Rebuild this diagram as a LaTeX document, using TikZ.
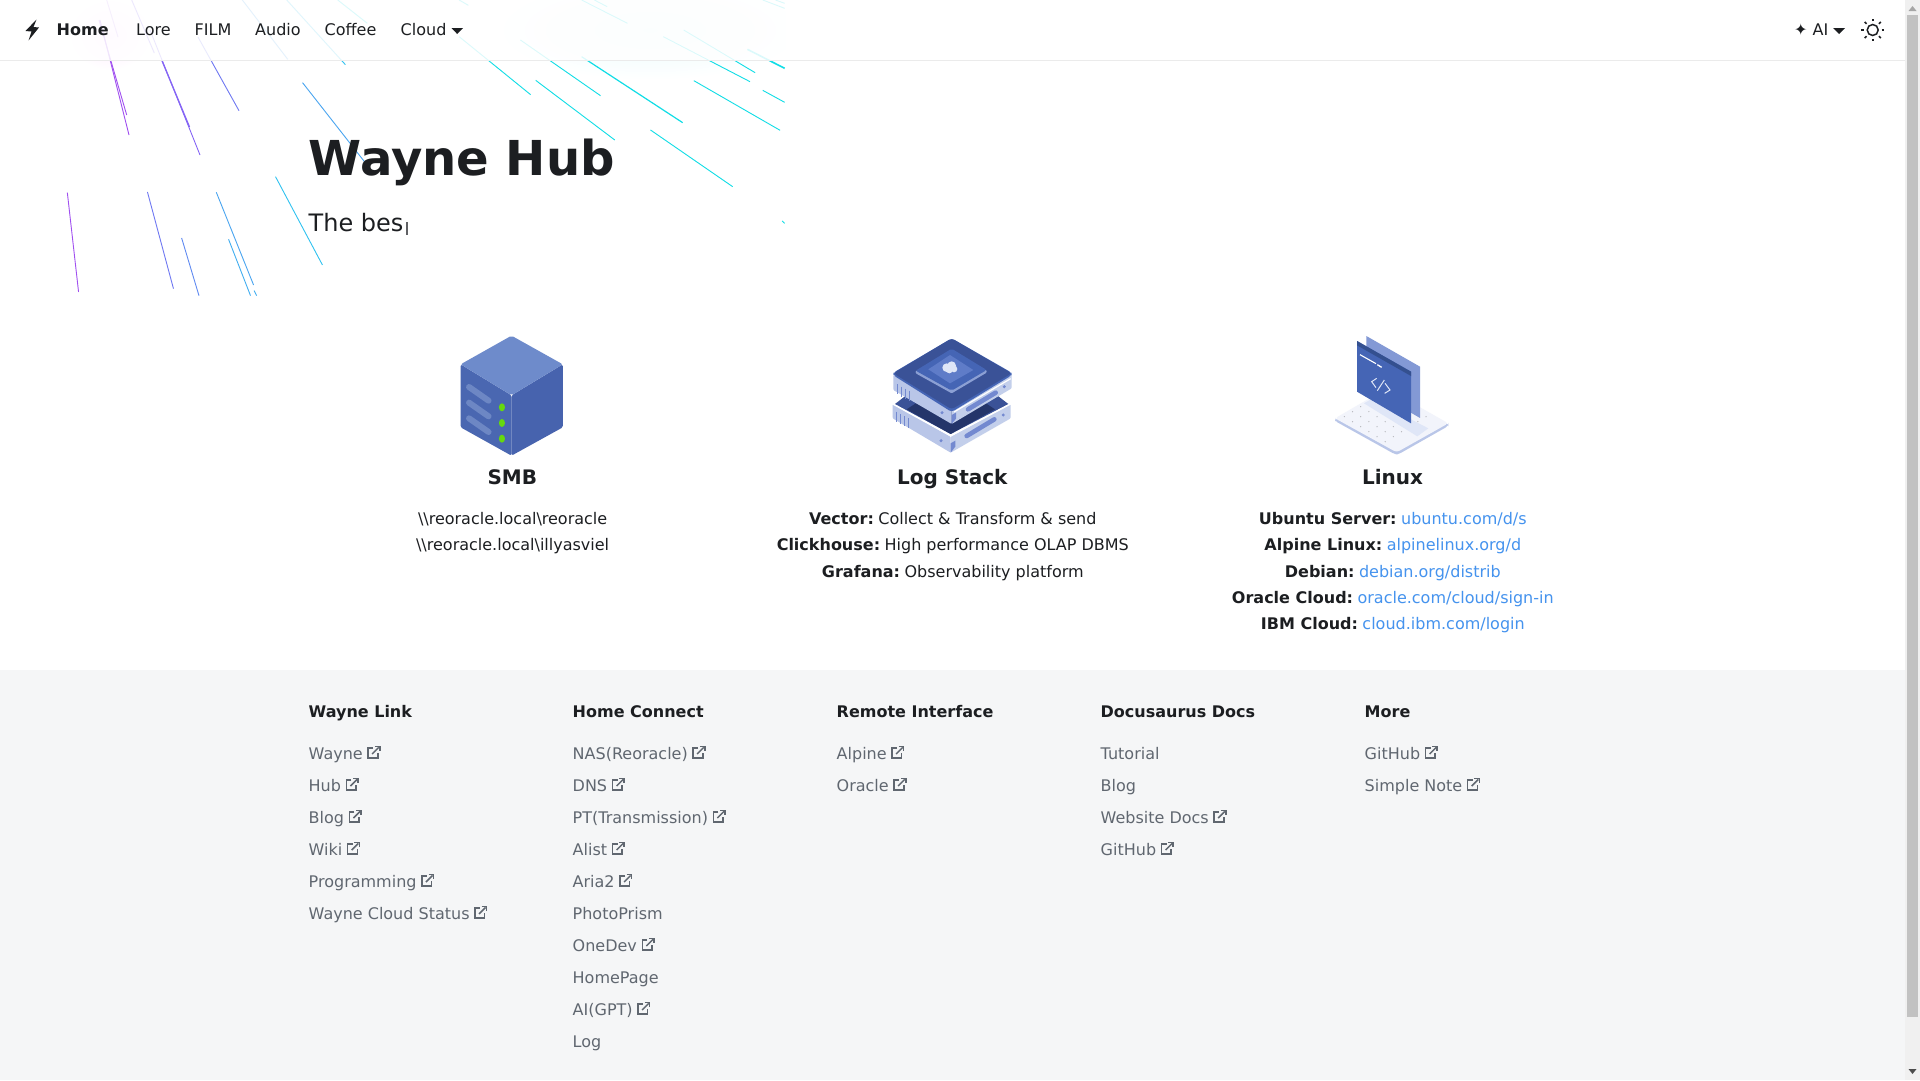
\documentclass[tikz,border=0pt]{standalone}
\usepackage{fontspec}
\setmainfont{DejaVu Sans}
\definecolor{ink}{HTML}{1C1E21}
\definecolor{foot}{HTML}{F5F6F7}
\definecolor{flink}{HTML}{606770}
\definecolor{lblue}{HTML}{4593EE}
\definecolor{cya}{HTML}{10DDE6}
\definecolor{smbtop}{HTML}{6E8BCB}
\definecolor{smbl}{HTML}{4A67B1}
\definecolor{smbr}{HTML}{4763AE}
\definecolor{smbbar}{HTML}{6D87C4}
\definecolor{smbg}{HTML}{66D90E}
\definecolor{plate}{HTML}{3A5297}
\definecolor{darkp}{HTML}{24356A}
\definecolor{sidel}{HTML}{B9C6E8}
\definecolor{sider}{HTML}{C3CFEB}
\definecolor{chip}{HTML}{4565B5}
\definecolor{chipl}{HTML}{8CA0D4}
\definecolor{chipi}{HTML}{5F7CC8}
\definecolor{slot}{HTML}{7389D0}
\definecolor{backp}{HTML}{8399D5}
\definecolor{headp}{HTML}{34508F}
\definecolor{baset}{HTML}{F2F4FB}
\definecolor{shad}{HTML}{DFE6F7}
\newcommand{\pxf}[1]{\fontsize{#1}{#1}\selectfont}
\newcommand{\lk}[1]{\textcolor{lblue}{#1}}
\newcommand{\bl}[1]{\textbf{#1}\kern-.6pt\ }
\tikzset{
  nav/.style={anchor=base west,inner sep=0pt,text=ink,font=\pxf{16}},
  body/.style={anchor=base,inner sep=0pt,text=ink,font=\pxf{16}},
  cardtitle/.style={anchor=base,inner sep=0pt,text=ink,font=\pxf{20}\bfseries},
  foothead/.style={anchor=base west,inner sep=0pt,text=ink,font=\pxf{16}\bfseries},
  footitem/.style={anchor=base west,inner sep=0pt,text=flink,font=\pxf{16}},
  extbox/.style={draw=flink,line width=1.5pt,line join=miter},
}
\newcommand{\ftx}[4]{\node[footitem] (#3) at (#1,#2) {#4};}
\newcommand{\flk}[4]{\node[footitem] (#3) at (#1,#2) {#4};
  \begin{scope}[shift={(#3.base east)}]
    \draw[extbox] (10.2,-10.8) -- (5.2,-10.8) -- (5.2,-1.2) -- (14.8,-1.2) -- (14.8,-5.6);
    \draw[extbox] (9.2,-5) -- (15.8,-11.6);
    \draw[extbox] (11.8,-12.6) -- (16.8,-12.6) -- (16.8,-7.6);
  \end{scope}}
\begin{document}
\begin{tikzpicture}[x=1pt,y=-1pt]
\useasboundingbox (0,0) rectangle (1920,1080);
\fill[white] (0,0) rectangle (1920,1080);
% meteor canvas
\begin{scope}
\clip (0,0) rectangle (785,296);
\shade[inner color=cya!9,outer color=white,draw=none] (650,30) ellipse (150 and 50);
\shade[inner color=magenta!9,outer color=white,draw=none] (110,35) ellipse (40 and 35);
\definecolor{m1}{HTML}{A04FF0}\definecolor{m2}{HTML}{8565F5}\definecolor{m3}{HTML}{6F78F2}
\definecolor{m4}{HTML}{4AA5F0}\definecolor{m5}{HTML}{30C2F0}
\begin{scope}[line width=.9pt]
\draw[m1] (99,20) -- (126.7,115);
\draw[m1] (100,20) -- (129,135);
\draw[m1!60!white] (106.7,0) -- (118,37);
\draw[m2] (131.7,0) -- (154.3,53);
\draw[m2,line width=1.3pt] (161.7,60) -- (189.5,127);
\draw[m2] (150,30) -- (200,155);
\draw[m3] (198,37) -- (239,110.7);
\end{scope}
\begin{scope}[x=.5102pt,y=-.3333pt,line width=.9pt]
\draw[m4] (475,0) -- (564,178);
\draw[m5] (562,0) -- (677,194);
\draw[m4] (593,248) -- (722,500);
\draw[m5] (540,530) -- (632,795);
\draw[m1] (132,578) -- (154,876);
\draw[m3] (289,576) -- (340,866);
\draw[m3!60!m4] (356,714) -- (390,887);
\draw[m4] (424,577) -- (497,855);
\draw[m4!70!m5] (448,718) -- (491,887);
\draw[m4!70!m5] (498,872) -- (503,887);
\draw[cya] (662,0) -- (720,70);
\draw[cya] (900,110) -- (1040,284);
\draw[cya] (1020,120) -- (1177,287);
\draw[cya,line width=1.2pt] (1140,170) -- (1338,368);
\draw[cya] (1050,241) -- (1205,420);
\draw[cya] (1275,390) -- (1436,560);
\draw[cya] (1360,242) -- (1529,391);
\draw[cya] (1495,271) -- (1538,307);
\draw[cya] (1300,110) -- (1470,245);
\draw[cya] (1340,90) -- (1480,218);
\draw[cya,line width=1.6pt] (1465,148) -- (1538,205);
\draw[cya] (1533,663) -- (1538,670);
\draw[cya] (900,0) -- (918,16);
\draw[cya] (1140,0) -- (1230,70);
\draw[cya] (1165,0) -- (1190,20);
\draw[cya] (1495,0) -- (1538,25);
\draw[cya] (1520,0) -- (1538,10);
\end{scope}
\end{scope}
% navbar
\fill[white,opacity=.85] (0,0) rectangle (1905,60);
\fill[black!8] (0,60) rectangle (1905,60.8);
\fill[ink] (36.5,19.5) -- (25.5,31) -- (31.5,31.5) -- (28.5,40.5) -- (39,27.5) -- (33.5,27) -- cycle;
\node[nav,font=\pxf{16}\bfseries] (home) at (56.5,35) {Home};
\node[nav] (lore) at (136,35) {Lore};
\node[nav] (film) at (194.5,35) {FILM};
\node[nav] (audio) at (255,35) {Audio};
\node[nav] (coffee) at (324.5,35) {Coffee};
\node[nav] (cloud) at (400.5,35) {Cloud};
\fill[ink] (451.5,28) -- (463,28) -- (457.2,34) -- cycle;
\node[nav] (ai) at (1794,35) {✦ AI};
\fill[ink] (1833,28) -- (1845,28) -- (1839,34) -- cycle;
\draw[ink,line width=1.5pt] (1872.7,30) circle (5.5);
\foreach \a in {0,45,...,315}{\draw[ink,line width=1.6pt] (1872.7,30) ++(\a:8.8) -- ++(\a:2.6);}
% hero
\node[anchor=base west,inner sep=0pt,text=ink,font=\pxf{48.1}\bfseries] (title) at (308.5,175) {Wayne Hub};
\node[anchor=base west,inner sep=0pt,text=ink,font=\pxf{24}] (sub) at (308.5,231) {The bes};
\fill[ink!70] (406,221.7) rectangle (407.5,234.5);
% SMB icon
\begin{scope}[shift={(430,320)},x=.3827pt,y=-.3333pt]
\fill[smbl,rounded corners=1.5pt] (80,133) -- (213,226) -- (213,407) -- (80,322) -- cycle;
\fill[smbr,rounded corners=1.5pt] (347,133) -- (347,322) -- (213,407) -- (213,226) -- cycle;
\fill[smbtop,rounded corners=2pt] (213,47) -- (347,133) -- (213,226) -- (80,133) -- cycle;
\foreach \d in {0,47,94}{
  \draw[smbbar,line width=6pt,line cap=round] (102,201+\d) -- (153,242+\d);
}
\foreach \d in {0,47,94}{
  \fill[smbg] (188,262+\d) ellipse (8 and 12);
}
\end{scope}
% Log Stack icon
\begin{scope}[shift={(880,330)},x=.3333pt,y=-.3333pt]
% lower unit
\fill[sidel,rounded corners=1pt] (38,222) -- (212,320) -- (212,368) -- (38,265) -- cycle;
\fill[sider,rounded corners=1pt] (392,222) -- (392,265) -- (212,368) -- (212,320) -- cycle;
\fill[plate] (45,222) -- (80,195) -- (350,195) -- (385,222) -- (212,312) -- cycle;
\fill[darkp] (80,238) -- (115,215) -- (310,215) -- (345,238) -- (212,312) -- cycle;
\draw[white,line width=1.2pt,line join=round] (38,222) -- (212,318) -- (392,222);
\foreach \x in {50,62,74,86}{\draw[slot,line width=1.3pt] (\x,{245+(\x-50)*.55}) -- +(0,30);}
\draw[slot,line width=4.6pt,line cap=round] (260,318) -- (343,268);
\fill[slot] (183,332) circle (5);
\fill[slot] (370,255) circle (5);
\fill[slot] (212,340) -- (226,332) -- (226,350) -- (212,368) -- cycle;
% upper unit
\fill[sidel,rounded corners=1pt] (40,135) -- (215,240) -- (215,282) -- (40,180) -- cycle;
\fill[sider,rounded corners=1pt] (395,130) -- (395,175) -- (215,282) -- (215,240) -- cycle;
\fill[chip,rounded corners=3pt] (40,128) -- (40,136) -- (215,246) -- (395,136) -- (395,128) -- (215,25) -- cycle;
\fill[plate,rounded corners=3pt] (215,25) -- (395,130) -- (215,238) -- (40,130) -- cycle;
\draw[white,line width=1.2pt] (222,246) -- (392,146);
\foreach \x in {53,65,77,89}{\draw[slot,line width=1.3pt] (\x,{163+(\x-53)*.55}) -- +(0,30);}
\draw[slot,line width=4.6pt,line cap=round] (264,238) -- (347,188);
\fill[slot] (186,248) circle (5);
\fill[slot] (373,170) circle (5);
\fill[slot] (215,255) -- (228,248) -- (228,266) -- (215,282) -- cycle;
% chip
\fill[chipl,rounded corners=1pt] (107,122) -- (107,130) -- (215,190) -- (320,128) -- (320,120) -- cycle;
\fill[chip,rounded corners=2pt] (215,56) -- (320,120) -- (215,182) -- (107,122) -- cycle;
\fill[chipi] (210,75) -- (280,120) -- (210,160) -- (145,118) -- cycle;
\fill[shad] (200,113) circle (13);
\fill[shad] (215,107) circle (13);
\fill[shad] (222,117) circle (10);
\fill[shad] (208,120) circle (10);
\end{scope}
% Linux icon
\begin{scope}[shift={(1300,320)},x=.3333pt,y=-.3333pt]
\fill[sidel,rounded corners=3pt] (105,296) -- (105,303) -- (285,403) -- (295,403) -- (445,318) -- (445,310) -- cycle;
\fill[baset,rounded corners=3pt] (105,295) -- (260,205) -- (445,310) -- (290,397) -- cycle;
\foreach \i in {0,...,5}{\foreach \j in {0,...,5}{
  \fill[black!25!baset] ({133+24.5*\i+24.5*\j},{290+15*\i-15*\j}) circle (2);
}}
\fill[shad] (192,250) -- (215,237) -- (385,325) -- (352,349) -- cycle;
\fill[backp] (199,48) -- (360,140) -- (360,294) -- (199,200) -- cycle;
\fill[chip] (171,63) -- (333,155) -- (333,310) -- (171,215) -- cycle;
\fill[headp] (171,63) -- (333,155) -- (333,168) -- (171,76) -- cycle;
\draw[white,line width=1.1pt] (180,104) -- (228,131);
\draw[white,line width=1.3pt] (232,134) -- (245,142);
\draw[shad,line width=1pt] (230,175) -- (215,185) -- (228,203);
\draw[shad,line width=1pt] (255,190) -- (270,210) -- (254,220);
\draw[shad,line width=1pt] (232,212) -- (253,180);
\end{scope}
% cards
\node[cardtitle] (smbt) at (512.3,484) {SMB};
\node[cardtitle] (logt) at (952.3,484) {Log Stack};
\node[cardtitle] (lint) at (1392.6,484) {Linux};
\node[body] (s1) at (512.6,524) {\textbackslash\textbackslash reoracle.local\textbackslash reoracle};
\node[body] (s2) at (512.6,550) {\textbackslash\textbackslash reoracle.local\textbackslash illyasviel};
\node[body] (l1) at (952.8,524) {\bl{Vector:}Collect \& Transform \& send};
\node[body] (l2) at (952.8,550) {\bl{Clickhouse:}High performance OLAP DBMS};
\node[body] (l3) at (952.8,577) {\bl{Grafana:}Observability platform};
\node[body] (x1) at (1392.8,524) {\bl{Ubuntu Server:}\lk{ubuntu.com/d/s}};
\node[body] (x2) at (1392.8,550) {\bl{Alpine Linux:}\lk{alpinelinux.org/d}};
\node[body] (x3) at (1392.8,577) {\bl{Debian:}\lk{debian.org/distrib}};
\node[body] (x4) at (1392.8,603) {\bl{Oracle Cloud:}\lk{oracle.com/cloud/sign-in}};
\node[body] (x5) at (1392.8,629) {\bl{IBM Cloud:}\lk{cloud.ibm.com/login}};
% footer
\fill[foot] (0,670) rectangle (1905,1080);
\node[foothead] (h1) at (308.5,717) {Wayne Link};
\node[foothead] (h2) at (572.5,717) {Home Connect};
\node[foothead] (h3) at (836.5,717) {Remote Interface};
\node[foothead] (h4) at (1100.5,717) {Docusaurus Docs};
\node[foothead] (h5) at (1364.5,717) {More};
\flk{308.5}{759}{a1}{Wayne}
\flk{308.5}{791}{a2}{Hub}
\flk{308.5}{823}{a3}{Blog}
\flk{308.5}{855}{a4}{Wiki}
\flk{308.5}{887}{a5}{Programming}
\flk{308.5}{919}{a6}{Wayne Cloud Status}
\flk{572.5}{759}{b1}{NAS(Reoracle)}
\flk{572.5}{791}{b2}{DNS}
\flk{572.5}{823}{b3}{PT(Transmission)}
\flk{572.5}{855}{b4}{Alist}
\flk{572.5}{887}{b5}{Aria2}
\ftx{572.5}{919}{b6}{PhotoPrism}
\flk{572.5}{951}{b7}{OneDev}
\ftx{572.5}{983}{b8}{HomePage}
\flk{572.5}{1015}{b9}{AI(GPT)}
\ftx{572.5}{1047}{b10}{Log}
\flk{836.5}{759}{c1}{Alpine}
\flk{836.5}{791}{c2}{Oracle}
\ftx{1100.5}{759}{d1}{Tutorial}
\ftx{1100.5}{791}{d2}{Blog}
\flk{1100.5}{823}{d3}{Website Docs}
\flk{1100.5}{855}{d4}{GitHub}
\flk{1364.5}{759}{e1}{GitHub}
\flk{1364.5}{791}{e2}{Simple Note}
% scrollbar
\fill[black!6] (1905,0) rectangle (1920,1080);
\fill[black!24] (1907,15) rectangle (1918,1017);
\fill[black!35] (1908.5,11) -- (1916.5,11) -- (1912.5,6) -- cycle;
\fill[black!70] (1908.5,1069) -- (1916.5,1069) -- (1912.5,1074) -- cycle;
\end{tikzpicture}
\end{document}
